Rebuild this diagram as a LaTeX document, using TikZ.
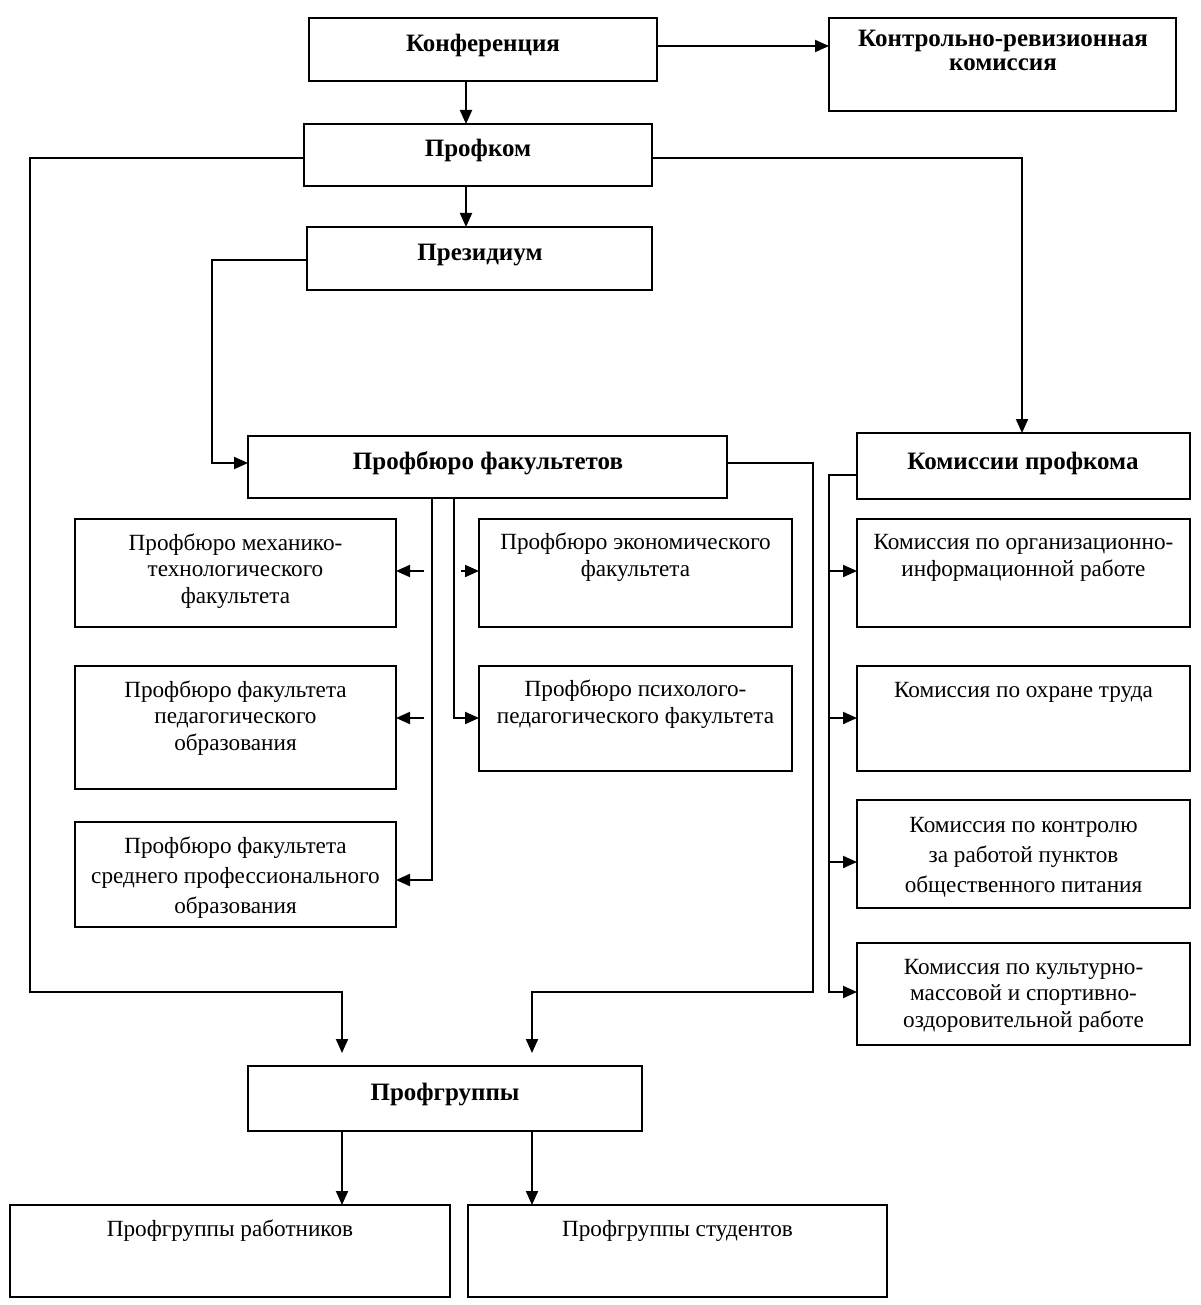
\documentclass[tikz,border=0pt]{standalone}
\usepackage{fontspec}
\setmainfont{Liberation Serif}
\usetikzlibrary{arrows.meta,calc}
\tikzset{
  box/.style={draw, line width=1pt, inner sep=0pt, outer sep=0pt, anchor=north west},
  lbl/.style={font=\fontsize{11.6}{13.25}\selectfont, align=center, inner sep=0pt, anchor=base},
  lblw/.style={font=\fontsize{11.6}{15}\selectfont, align=center, inner sep=0pt, anchor=base},
  blbl/.style={font=\fontsize{12.5}{12}\selectfont\bfseries, align=center, inner sep=0pt, anchor=base},
  conn/.style={line width=1pt},
  arr/.style={conn, -{Triangle[length=7pt,width=6pt]}},
}
\newcommand\bx[5]{\node[box, minimum width={(#4-#2)*0.5pt}, minimum height={(#5-#3)*0.5pt}] (#1) at (#2,#3) {};}
\begin{document}
\begin{tikzpicture}[x=0.5pt,y=-0.5pt]
\useasboundingbox (0,0) rectangle (1200,1305);
% boxes
\bx{conf}{309}{18}{657}{81}
\bx{krk}{829}{18}{1176}{111}
\bx{pk}{304}{124}{652}{186}
\bx{prez}{307}{227}{652}{290}
\bx{pbf}{248}{436}{727}{498}
\bx{kp}{857}{433}{1190}{499}
\bx{mech}{75}{519}{396}{627}
\bx{econ}{479}{519}{792}{627}
\bx{ped}{75}{666}{396}{789}
\bx{psy}{479}{666}{792}{771}
\bx{spo}{75}{822}{396}{927}
\bx{org}{857}{519}{1190}{627}
\bx{ohr}{857}{666}{1190}{771}
\bx{ktr}{857}{800}{1190}{908}
\bx{kult}{857}{943}{1190}{1045}
\bx{pg}{248}{1066}{642}{1131}
\bx{rab}{10}{1205}{450}{1297}
\bx{stud}{468}{1205}{887}{1297}
% texts (anchor = baseline of last line)
\node[blbl] (conf-t) at (483,52) {Конференция};
\node[blbl] (krk-t) at (1003,71) {Контрольно-ревизионная\\комиссия};
\node[blbl] (pk-t) at (478,157) {Профком};
\node[blbl] (prez-t) at (480,261) {Президиум};
\node[blbl] (pbf-t) at (488,469) {Профбюро факультетов};
\node[blbl] (kp-t) at (1023,469) {Комиссии профкома};
\node[lbl] (mech-t) at (235.5,603) {Профбюро механико-\\технологического\\факультета};
\node[lbl] (econ-t) at (635.5,576) {Профбюро экономического\\факультета};
\node[lbl] (ped-t) at (235.5,750) {Профбюро факультета\\педагогического\\образования};
\node[lbl] (psy-t) at (635.5,723) {Профбюро психолого-\\педагогического факультета};
\node[lblw] (spo-t) at (235.5,913) {Профбюро факультета\\среднего профессионального\\образования};
\node[lbl] (org-t) at (1023.5,576) {Комиссия по организационно-\\информационной работе};
\node[lbl] (ohr-t) at (1023.5,697) {Комиссия по охране труда};
\node[lblw] (ktr-t) at (1023.5,892) {Комиссия по контролю\\за работой пунктов\\общественного питания};
\node[lbl] (kult-t) at (1023.5,1027) {Комиссия по культурно-\\массовой и спортивно-\\оздоровительной работе};
\node[blbl] (pg-t) at (445,1100) {Профгруппы};
\node[lbl] (rab-t) at (230,1236) {Профгруппы работников};
\node[lbl] (stud-t) at (677.5,1236) {Профгруппы студентов};
% connectors
\draw[arr] (conf.east |- 0,46) -- (krk.west |- 0,46);
\draw[arr] (conf.south -| 466,0) -- (pk.north -| 466,0);
\draw[arr] (pk.south -| 466,0) -- (prez.north -| 466,0);
\draw[arr, shorten >=6.5pt] (pk.west |- 0,158) -| (30,992) -| (pg.north -| 342,0);
\draw[arr] (pk.east |- 0,158) -| (kp.north -| 1022,0);
\draw[arr] (prez.west |- 0,260) -| (212,463) -- (pbf.west |- 0,463);
\draw[arr, shorten >=6.5pt] (pbf.east |- 0,463) -| (813,992) -| (pg.north -| 532,0);
\draw[arr] (pbf.south -| 432,0) |- (spo.east |- 0,880);
\draw[arr] (424,571) -- (mech.east |- 0,571);
\draw[arr] (424,718) -- (ped.east |- 0,718);
\draw[arr] (461,571) -- (econ.west |- 0,571);
\draw[arr] (pbf.south -| 454,0) |- (psy.west |- 0,718);
\draw[arr] (kp.west |- 0,475) -| (829,992) -- (kult.west |- 0,992);
\draw[arr] (829,571) -- (org.west |- 0,571);
\draw[arr] (829,718) -- (ohr.west |- 0,718);
\draw[arr] (829,862) -- (ktr.west |- 0,862);
\draw[arr] (pg.south -| 342,0) -- (rab.north -| 342,0);
\draw[arr] (pg.south -| 532,0) -- (stud.north -| 532,0);
\end{tikzpicture}
\end{document}
